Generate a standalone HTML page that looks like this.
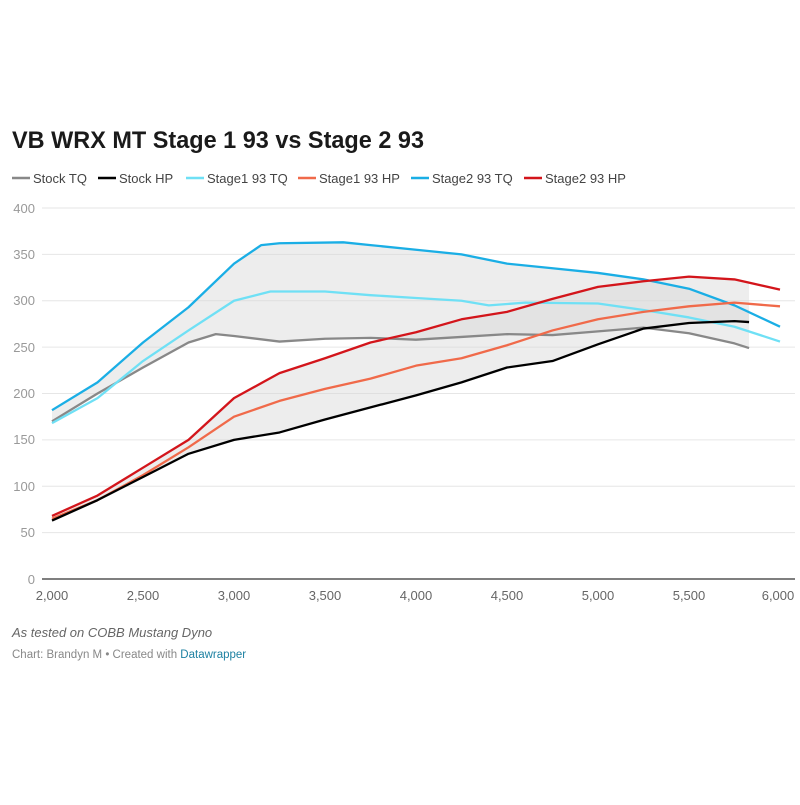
<!DOCTYPE html>
<html><head><meta charset="utf-8"><style>
body{margin:0;background:#fff;font-family:"Liberation Sans",sans-serif;}
</style></head><body>
<svg width="800" height="800" xmlns="http://www.w3.org/2000/svg" font-family="Liberation Sans, sans-serif">
<rect width="800" height="800" fill="#fff"/>
<text x="12" y="148" font-size="24" font-weight="bold" fill="#1a1a1a" textLength="412" lengthAdjust="spacingAndGlyphs">VB WRX MT Stage 1 93 vs Stage 2 93</text>
<g font-size="13" fill="#444">
<line x1="12" y1="178" x2="30" y2="178" stroke="#888" stroke-width="2.5"/><text x="33" y="183">Stock TQ</text>
<line x1="98" y1="178" x2="116" y2="178" stroke="#000" stroke-width="2.5"/><text x="119" y="183">Stock HP</text>
<line x1="186" y1="178" x2="204" y2="178" stroke="#6fe0f5" stroke-width="2.5"/><text x="207" y="183">Stage1 93 TQ</text>
<line x1="298" y1="178" x2="316" y2="178" stroke="#f06a4a" stroke-width="2.5"/><text x="319" y="183">Stage1 93 HP</text>
<line x1="411" y1="178" x2="429" y2="178" stroke="#1aaee5" stroke-width="2.5"/><text x="432" y="183">Stage2 93 TQ</text>
<line x1="524" y1="178" x2="542" y2="178" stroke="#d3151b" stroke-width="2.5"/><text x="545" y="183">Stage2 93 HP</text>
</g>
<g stroke="#e6e6e6" stroke-width="1">
<line x1="42" y1="208" x2="795" y2="208"/><line x1="42" y1="254.4" x2="795" y2="254.4"/>
<line x1="42" y1="300.8" x2="795" y2="300.8"/><line x1="42" y1="347.1" x2="795" y2="347.1"/>
<line x1="42" y1="393.5" x2="795" y2="393.5"/><line x1="42" y1="439.9" x2="795" y2="439.9"/>
<line x1="42" y1="486.3" x2="795" y2="486.3"/><line x1="42" y1="532.6" x2="795" y2="532.6"/>
</g>
<g font-size="13" fill="#999" text-anchor="end">
<text x="35" y="213">400</text><text x="35" y="259">350</text><text x="35" y="305">300</text><text x="35" y="352">250</text>
<text x="35" y="398">200</text><text x="35" y="444">150</text><text x="35" y="491">100</text><text x="35" y="537">50</text><text x="35" y="584">0</text>
</g>
<g font-size="13" fill="#666" text-anchor="middle">
<text x="52" y="600">2,000</text><text x="143" y="600">2,500</text><text x="234" y="600">3,000</text><text x="325" y="600">3,500</text>
<text x="416" y="600">4,000</text><text x="507" y="600">4,500</text><text x="598" y="600">5,000</text><text x="689" y="600">5,500</text><text x="778" y="600">6,000</text>
</g>
<g transform="translate(52,579) scale(0.182,-0.9275)" fill="none" stroke-linejoin="round">
<polygon fill="#d8d8d8" fill-opacity="0.45" stroke="none" points="0,182 250,212 500,255 750,293 1000,340 1150,360 1250,362 1600,363 1750,360 2000,355 2250,350 2500,340 2750,335 3000,330 3250,323 3500,313 3750,295 3830,290 3830,249 3750,254 3500,265 3250,271 3000,267 2750,263 2500,264 2250,261 2000,258 1750,260 1500,259 1250,256 1000,262 900,264 750,255 500,228 250,200 0,170"/>
<polygon fill="#d8d8d8" fill-opacity="0.45" stroke="none" points="0,68 250,90 500,120 750,150 1000,195 1250,222 1500,238 1750,255 2000,266 2250,280 2500,288 2750,302 3000,315 3250,321 3500,326 3750,323 3830,321 3830,277 3750,278 3500,276 3250,270 3000,253 2750,235 2500,228 2250,212 2000,198 1750,185 1500,172 1250,158 1000,150 750,135 500,110 250,85 0,63"/>
<polyline vector-effect="non-scaling-stroke" stroke="#888" stroke-width="2.3" points="0,170 250,200 500,228 750,255 900,264 1000,262 1250,256 1500,259 1750,260 2000,258 2250,261 2500,264 2750,263 3000,267 3250,271 3500,265 3750,254 3830,249"/>
<polyline vector-effect="non-scaling-stroke" stroke="#6fe0f5" stroke-width="2.3" points="0,168 250,195 500,235 750,268 1000,300 1200,310 1500,310 1750,306 2000,303 2250,300 2400,295 2600,298 3000,297 3250,290 3500,282 3750,272 4000,256"/>
<polyline vector-effect="non-scaling-stroke" stroke="#1aaee5" stroke-width="2.3" points="0,182 250,212 500,255 750,293 1000,340 1150,360 1250,362 1600,363 1750,360 2000,355 2250,350 2500,340 2750,335 3000,330 3250,323 3500,313 3750,295 4000,272"/>
<polyline vector-effect="non-scaling-stroke" stroke="#f06a4a" stroke-width="2.3" points="0,65 250,85 500,112 750,142 1000,175 1250,192 1500,205 1750,216 2000,230 2250,238 2500,252 2750,268 3000,280 3250,288 3500,294 3750,298 4000,294"/>
<polyline vector-effect="non-scaling-stroke" stroke="#000" stroke-width="2.3" points="0,63 250,85 500,110 750,135 1000,150 1250,158 1500,172 1750,185 2000,198 2250,212 2500,228 2750,235 3000,253 3250,270 3500,276 3750,278 3830,277"/>
<polyline vector-effect="non-scaling-stroke" stroke="#d3151b" stroke-width="2.3" points="0,68 250,90 500,120 750,150 1000,195 1250,222 1500,238 1750,255 2000,266 2250,280 2500,288 2750,302 3000,315 3250,321 3500,326 3750,323 4000,312"/>
</g>
<line x1="42" y1="579" x2="795" y2="579" stroke="#555" stroke-width="1.5"/>
<text x="12" y="637" font-size="13" font-style="italic" fill="#666">As tested on COBB Mustang Dyno</text>
<text x="12" y="658" font-size="11.5" fill="#888">Chart: Brandyn M • Created with <tspan fill="#1d81a2">Datawrapper</tspan></text>
</svg>
</body></html>
